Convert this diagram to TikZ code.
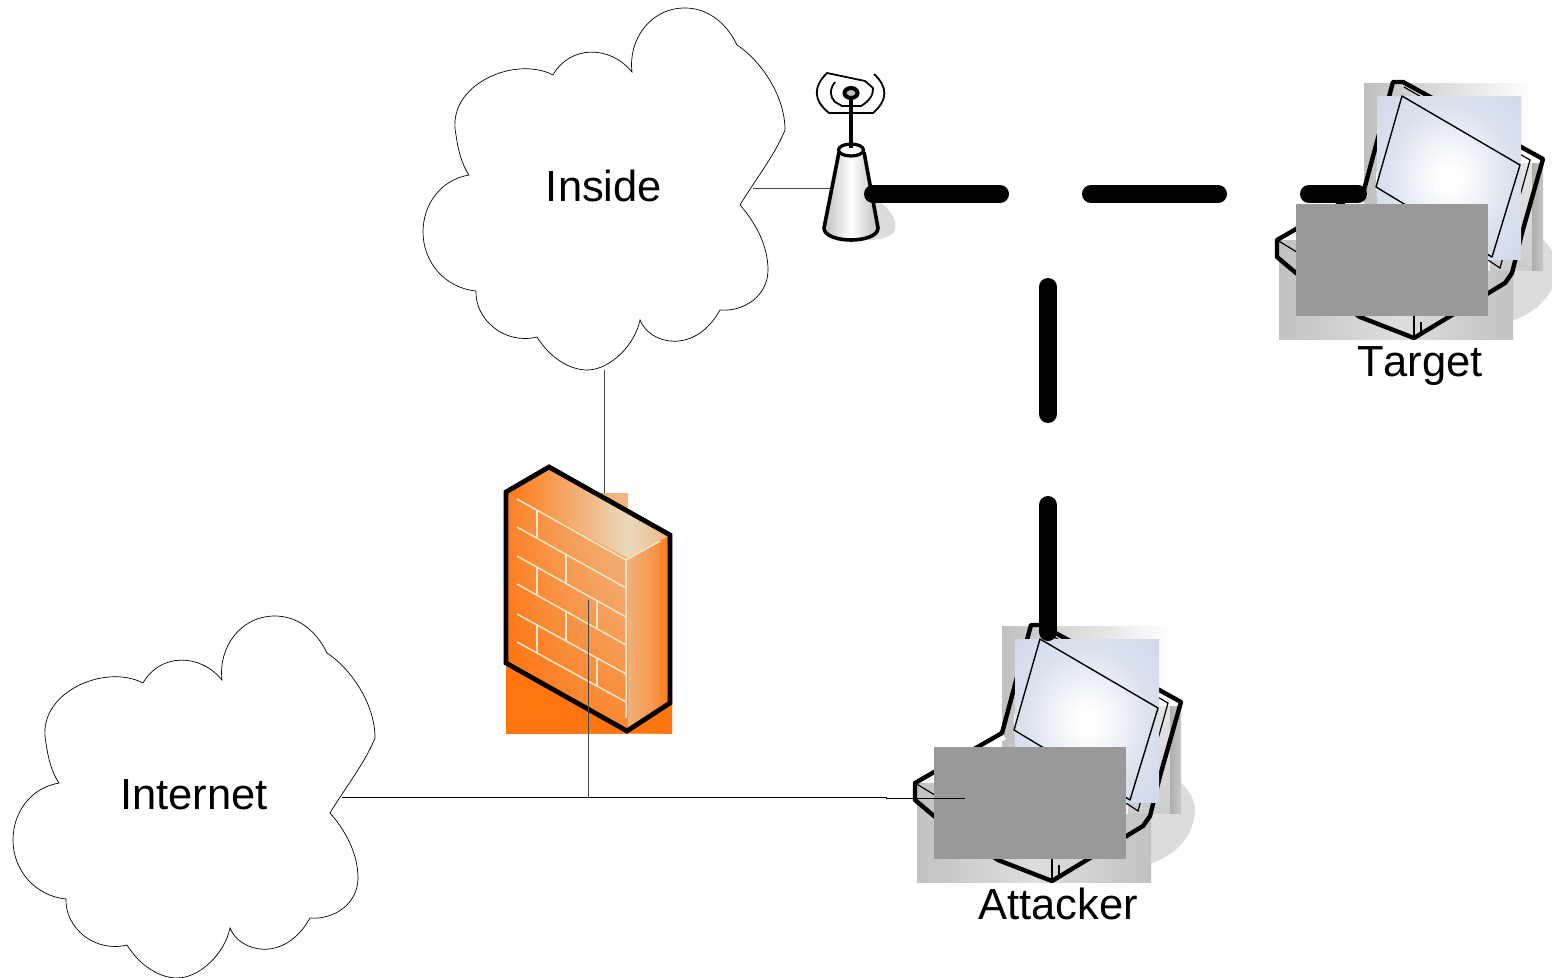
\documentclass[tikz,border=0pt]{standalone}
\usepackage{fontspec}
\setmainfont[Kerning=Off]{Liberation Sans}
\usetikzlibrary{calc}
\definecolor{fworange}{HTML}{FF7510}
\definecolor{fwmid}{HTML}{F69A52}
\definecolor{fwcream}{HTML}{EAD9BC}
\definecolor{brick}{HTML}{F0E6C8}
\definecolor{screenblue}{HTML}{C8D4E6}
\definecolor{maskgray}{HTML}{999999}
\definecolor{shadowgray}{HTML}{DCDCDC}
\definecolor{thinline}{HTML}{444444}
\pgfdeclareradialshading{fwfront}{\pgfpoint{50bp}{45bp}}{%
  color(0bp)=(fwcream); color(18bp)=(fwcream!60!fwmid); color(42bp)=(fwmid); color(64bp)=(fworange); color(150bp)=(fworange)}
\pgfdeclareradialshading{lcdglow}{\pgfpoint{0bp}{0bp}}{%
  color(0bp)=(white); color(4bp)=(white); color(22bp)=(screenblue!68!white); color(44bp)=(screenblue); color(100bp)=(screenblue)}
\tikzset{
  cloudline/.style={draw=black,line width=0.7pt,fill=white},
  thinlink/.style={draw=thinline,line width=1pt},
  radiolink/.style={draw=black,line width=18pt,line cap=round,dash pattern=on 127pt off 91pt},
  labeltext/.style={font=\fontsize{43.5}{50}\selectfont,anchor=base,inner sep=0pt},
  thickout/.style={draw=black,line width=4.4pt,line join=round},
  brickline/.style={draw=brick,line width=1.5pt},
}
\newcommand{\cloudshape}{%
  (740,205) .. controls (755,180) and (775,155) .. (785,130)
  .. controls (785,95) and (760,60) .. (737,45)
  .. controls (725,20) and (705,8) .. (685,8)
  .. controls (650,8) and (628,40) .. (632,72)
  .. controls (610,45) and (570,45) .. (553,75)
  .. controls (515,55) and (445,85) .. (456,135)
  .. controls (458,150) and (462,165) .. (469,175)
  .. controls (440,180) and (423,205) .. (423,232)
  .. controls (423,262) and (445,288) .. (476,291)
  .. controls (475,320) and (505,345) .. (537,337)
  .. controls (550,358) and (570,370) .. (587,370)
  .. controls (610,370) and (635,345) .. (640,320)
  .. controls (650,345) and (695,355) .. (720,310)
  .. controls (745,312) and (768,295) .. (768,270)
  .. controls (768,245) and (755,222) .. (740,205) -- cycle}
\newcommand{\laptopdrawing}{%
  \fill[shadowgray] (1530,228) .. controls (1552,245) and (1560,260) .. (1556,275)
    .. controls (1552,300) and (1530,320) .. (1490,326) -- (1450,326) -- cycle;
  \shade[left color=black!24,right color=black!24,middle color=black!13] (1279,240) rectangle (1513,339);
  \shade[left color=black!25,right color=white] (1364,83) rectangle (1532,270);
  \shade[top color=black!10,bottom color=black!20] (1490,163) rectangle (1532,270);
  \shade[left color=black!32,right color=black!22] (1532,163) rectangle (1543,270);
  \fill[white] (1364,190) -- (1368,196) -- (1300,236) -- (1290,236) -- cycle;
  \draw[thickout] (1393,82) -- (1403,82) -- (1543,159) -- (1522,233) -- (1512,273) -- (1505,283)
    -- (1414,338) -- (1360,317) -- (1296,273) -- (1277,257) -- (1277,240) -- (1364,190) -- cycle;
  \draw[black,line width=1.2pt] (1277,240) -- (1300,254);
  \draw[black,line width=1.2pt] (1414,316) -- (1414,338) (1421,322) -- (1421,334);
  \draw[black,line width=1.2pt] (1404,87) -- (1530,160) -- (1500,268) -- (1488,260);
  \fill[white] (1376,170) -- (1376,190) -- (1382,192) -- cycle;
  \shade[shading=lcdglow] (1377,96) rectangle (1521,259);
  \draw[black,line width=1.4pt,line join=round] (1402,96) -- (1520,165) -- (1492,257) -- (1376,187) -- cycle;
}
\begin{document}
\begin{tikzpicture}[x=1pt,y=-1pt]
\useasboundingbox (0,0) rectangle (1552,977);
\fill[white] (0,0) rectangle (1552,977);

% clouds
\draw[cloudline] \cloudshape;
\begin{scope}[shift={(-410,608)}]
  \draw[cloudline] \cloudshape;
\end{scope}
\node[labeltext] (inside) at (604,201) {Inside};
\node[labeltext] (internet) at (194,809) {Internet};

% named connection points
\coordinate (insideS) at (604,370);
\coordinate (insideE) at (753,188);
\coordinate (apW) at (830,188);
\coordinate (fwTop) at (604,497);
\coordinate (fwDrop) at (588,600);
\coordinate (busFw) at (588,797);
\coordinate (internetE) at (342,797);
\coordinate (busKink) at (886,797);
\coordinate (attackerW) at (965,798);
\coordinate (apE) at (873,194);
\coordinate (targetW) at (1358,194);
\coordinate (radioV) at (1048,287);
\coordinate (attackerN) at (1048,634);

% thin links under the devices
\draw[thinlink] (insideS) -- (fwTop);
\draw[thinlink] (insideE) -- (apW);

% wireless access point
\fill[shadowgray] (868,196) .. controls (888,203) and (900,222) .. (894,232)
  .. controls (888,238) and (880,240) .. (868,240) -- cycle;
\shade[left color=black!25,right color=black!25,middle color=white]
  (839,152) -- (824,228) .. controls (824,236) and (838,240) .. (851,240)
  .. controls (864,240) and (878,236) .. (878,228) -- (864,152) -- cycle;
\draw[black,line width=3.6pt,line join=round]
  (839,152) -- (824,228) .. controls (824,236) and (838,240) .. (851,240)
  .. controls (864,240) and (878,236) .. (878,228) -- (864,152);
\draw[black,line width=3.2pt,fill=white] (851,150) ellipse [x radius=12.5,y radius=6];
\draw[black,line width=1.8pt,line join=round]
  (835,82) .. controls (829,90) and (830,97) .. (835,102) -- (842,106) -- (861,106)
  .. controls (868,102) and (874,95) .. (873,88) -- (865,81) -- (827,73)
  .. controls (813,87) and (813,100) .. (829,113) -- (873,113)
  .. controls (888,100) and (888,87) .. (874,74);
\draw[black,line width=3.4pt] (851,97) -- (851,148);
\draw[black,line width=4pt,fill=black!25] (851,93) ellipse [x radius=6.5,y radius=5];

% firewall
\shade[shading=fwfront] (506,493) rectangle (628,733);
\shade[left color=fwcream!35!fwmid,right color=fworange,middle color=fwmid] (628,535) rectangle (672,733);
\fill[fworange] (506,663) -- (627,731) -- (670,703) -- (672,703) -- (672,733) -- (506,733) -- cycle;
\shade[left color=fworange,right color=fwcream]
  (505,492) -- (549,467) -- (628,511) -- (628,558) -- cycle;
\shade[left color=fwcream,right color=fwmid!55!fwcream] (628,511) -- (670,535) -- (628,558) -- cycle;
\draw[brickline] (517,499) -- (626,560) (517,527) -- (626,588) (517,556) -- (626,617)
  (517,584) -- (626,645) (517,614) -- (626,674) (517,642) -- (626,702);
\draw[brickline] (626,560) -- (626,718) (626,560) -- (660,541);
\draw[brickline] (537,510) -- (537,538) (537,567) -- (537,595) (537,625) -- (537,653)
  (566,555) -- (566,583) (566,612) -- (566,641) (597,600) -- (597,628) (597,658) -- (597,687);
\draw[black,line width=4.8pt,line join=miter] (506,492) -- (549,467) -- (670,535) -- (670,703) -- (627,731) -- (506,663) -- cycle;

% laptops
\laptopdrawing
\begin{scope}[shift={(-362,543)}]
  \laptopdrawing
\end{scope}

% radio links
\draw[radiolink] (apE) -- (targetW);
\draw[radiolink] (radioV) -- (attackerN);

% masks
\fill[maskgray] (1296,204) rectangle (1488,316);
\fill[maskgray] (934,747) rectangle (1126,859);

% wired links
\draw[thinlink] (fwDrop) -- (busFw);
\draw[draw=black,line width=1pt] (internetE) -- (busKink) -- ++(0,1) -- (attackerW);

\node[labeltext] (target) at (1420,376) {Target};
\node[labeltext] (attacker) at (1058,919) {Attacker};
\end{tikzpicture}
\end{document}
